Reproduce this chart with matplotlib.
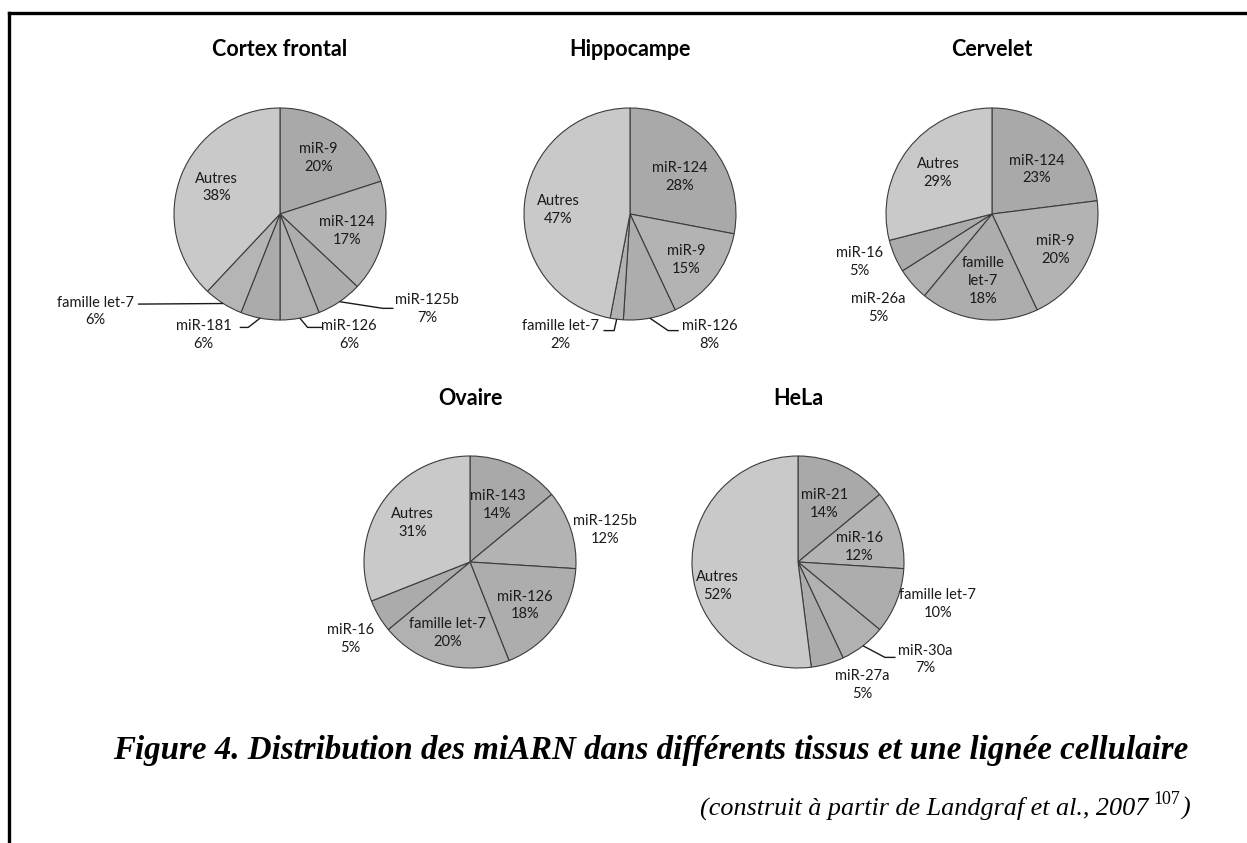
import matplotlib
matplotlib.use("Agg")
import matplotlib.pyplot as plt
from matplotlib.lines import Line2D
import numpy as np

# ---- données (pourcentages) ----
cortex_names = ['miR-9', 'miR-124', 'miR-125b', 'miR-126', 'miR-181', 'famille let-7', 'Autres']
cortex_values = [20, 17, 7, 6, 6, 6, 38]

hippo_names = ['miR-124', 'miR-9', 'miR-126', 'famille let-7', 'Autres']
hippo_values = [28, 15, 8, 2, 47]

cervelet_names = ['miR-124', 'miR-9', 'famille let-7', 'miR-26a', 'miR-16', 'Autres']
cervelet_values = [23, 20, 18, 5, 5, 29]

ovaire_names = ['miR-143', 'miR-125b', 'miR-126', 'famille let-7', 'miR-16', 'Autres']
ovaire_values = [14, 12, 18, 20, 5, 31]

hela_names = ['miR-21', 'miR-16', 'famille let-7', 'miR-30a', 'miR-27a', 'Autres']
hela_values = [14, 12, 10, 7, 5, 52]

titles = ['Cortex frontal', 'Hippocampe', 'Cervelet', 'Ovaire', 'HeLa']

W, H = 1247, 843
R = 106          # rayon des camemberts en pixels
A = 2.0          # demi-largeur des axes en unités de rayon

fig = plt.figure(figsize=(W / 100, H / 100), dpi=100)
fig.patch.set_facecolor('white')

LABEL_FONT = ['Lato', 'DejaVu Sans']
TXT = '#1a1a1a'
grays = ['#a9a9a9', '#b3b3b3', '#adadad', '#b1b1b1', '#ababab', '#b5b5b5']
autres_color = '#c9c9c9'

# mise en page : centre (px), positions des étiquettes, lignes de rappel
pies = [
    dict(title=titles[0], names=cortex_names, values=cortex_values, center=(280, 214),
         labels=[(0.36, 0.53), (0.63, -0.16), (1.39, -0.90), (0.65, -1.14),
                 (-0.72, -1.14), (-1.74, -0.92), (-0.60, 0.25)],
         leaders={2: [(0.97, -0.89), (1.07, -0.89)],
                  3: [(0.26, -1.07), (0.40, -1.07)],
                  4: [(-0.30, -1.07), (-0.38, -1.07)],
                  5: [(-1.34, -0.85)]},
         wrap=[]),
    dict(title=titles[1], names=hippo_names, values=hippo_values, center=(630, 214),
         labels=[(0.47, 0.35), (0.53, -0.43), (0.75, -1.14), (-0.66, -1.14), (-0.68, 0.04)],
         leaders={2: [(0.36, -1.10), (0.46, -1.10)],
                  3: [(-0.15, -1.10), (-0.25, -1.10)]},
         wrap=[]),
    dict(title=titles[2], names=cervelet_names, values=cervelet_values, center=(992, 214),
         labels=[(0.42, 0.42), (0.60, -0.34), (-0.08, -0.63), (-1.07, -0.89),
                 (-1.25, -0.45), (-0.51, 0.39)],
         leaders={}, wrap=[2]),
    dict(title=titles[3], names=ovaire_names, values=ovaire_values, center=(470, 562),
         labels=[(0.26, 0.54), (1.27, 0.30), (0.52, -0.41), (-0.21, -0.67),
                 (-1.13, -0.73), (-0.54, 0.37)],
         leaders={}, wrap=[]),
    dict(title=titles[4], names=hela_names, values=hela_values, center=(798, 562),
         labels=[(0.25, 0.55), (0.58, 0.14), (1.32, -0.40), (1.20, -0.92),
                 (0.61, -1.16), (-0.76, -0.23)],
         leaders={3: [(0.82, -0.90), (0.92, -0.90)]},
         wrap=[]),
]

for p in pies:
    cx, cy = p['center']
    ax = fig.add_axes([(cx - A * R) / W, (H - cy - A * R) / H, 2 * A * R / W, 2 * A * R / H])
    cols = [autres_color if n == 'Autres' else grays[i % len(grays)] for i, n in enumerate(p['names'])]
    ax.pie(p['values'], startangle=90, counterclock=False, colors=cols, radius=1,
           wedgeprops=dict(edgecolor='#3c3c3c', linewidth=0.8))
    ax.set_xlim(-A, A)
    ax.set_ylim(-A, A)
    ax.axis('off')

    total = float(sum(p['values']))
    cum = 0.0
    for i, (name, val) in enumerate(zip(p['names'], p['values'])):
        mid = (cum + val / 2.0) / total * 2 * np.pi
        cum += val
        shown = name.replace(' ', '\n') if i in p['wrap'] else name
        lx, ly = p['labels'][i]
        ax.text(lx, ly, f"{shown}\n{val}%", ha='center', va='center', fontsize=10.5,
                family=LABEL_FONT, color=TXT, linespacing=1.35)
        if i in p['leaders']:
            pts = [(np.sin(mid), np.cos(mid))] + p['leaders'][i]
            xs, ys = zip(*pts)
            ax.plot(xs, ys, color='#1a1a1a', linewidth=1.0, solid_capstyle='butt', clip_on=False)

    fig.text(cx / W, 1 - (50 if cy < 400 else 398) / H, p['title'], ha='center', va='center',
             fontsize=15.5, fontweight='bold', family=LABEL_FONT, color='black')

# cadre (haut et gauche)
fig.add_artist(Line2D([9 / W, 1.0], [1 - 12.5 / H, 1 - 12.5 / H], color='black', linewidth=2.4,
                      transform=fig.transFigure))
fig.add_artist(Line2D([9 / W, 9 / W], [0.0, 1 - 12.5 / H], color='black', linewidth=2.4,
                      transform=fig.transFigure))

# légende de la figure
CAP_FONT = ['Liberation Serif', 'DejaVu Serif']
cap = fig.text(651 / W, 1 - 750 / H,
               "Figure 4. Distribution des miARN dans différents tissus et une lignée cellulaire",
               ha='center', va='center', fontsize=20, fontweight='bold', style='italic',
               family=CAP_FONT, color='black')
fig.canvas.draw()
w_cap = cap.get_window_extent().width
cap.set_fontsize(20 * 1077.0 / w_cap)

close = fig.text(1190 / W, 1 - 808 / H, ")", ha='right', va='center', fontsize=19,
                 style='italic', family=CAP_FONT, color='black')
sup = fig.text(0, 0, "107", ha='right', va='bottom', fontsize=13, family=CAP_FONT, color='black')
src = fig.text(0, 1 - 808 / H, "(construit à partir de Landgraf et al., 2007",
               ha='right', va='center', fontsize=19, style='italic', family=CAP_FONT, color='black')


def place_source():
    fig.canvas.draw()
    bb = close.get_window_extent()
    sup.set_position((bb.x0 / W - 0.001, (bb.y0 + 0.5 * bb.height) / H))
    fig.canvas.draw()
    bb2 = sup.get_window_extent()
    src.set_position((bb2.x0 / W - 0.004, 1 - 808 / H))
    fig.canvas.draw()
    return src.get_window_extent().x0


left = place_source()
# ajuste la taille pour que la ligne commence vers x=700 px
scale = (1190 - 700) / (1190 - left)
for t in (close, src, sup):
    t.set_fontsize(t.get_fontsize() * scale)
place_source()

fig.savefig('out.png', dpi=100, facecolor='white')
